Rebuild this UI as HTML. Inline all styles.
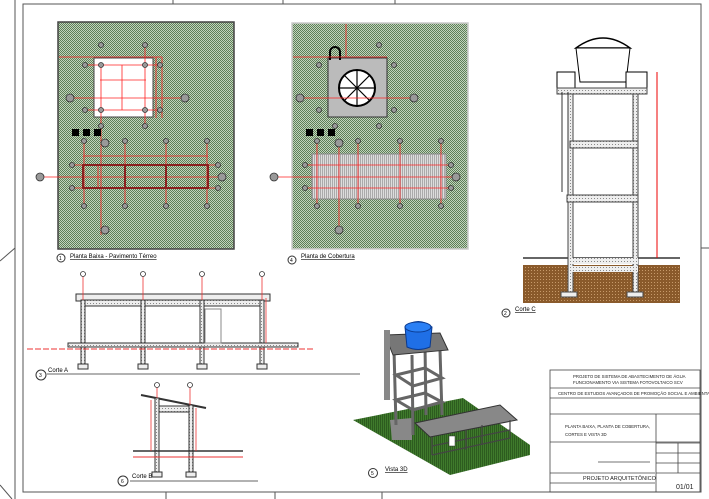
<!DOCTYPE html>
<html><head><meta charset="utf-8"><style>
html,body{margin:0;padding:0;background:#fff;}
svg{display:block;}
text{font-family:"Liberation Sans",sans-serif;}
</style></head><body>
<svg width="709" height="499" viewBox="0 0 709 499" xmlns="http://www.w3.org/2000/svg">
<defs>
<pattern id="g" width="2" height="2" patternUnits="userSpaceOnUse"><rect width="2" height="2" fill="#c2d4bd"/><rect width="1" height="1" fill="#5d7e57"/><rect x="1" y="1" width="1" height="1" fill="#5d7e57"/></pattern>
<pattern id="grass" width="2" height="2" patternUnits="userSpaceOnUse"><rect width="2" height="2" fill="#3f7a2c"/><rect width="1" height="2" fill="#2d5c1f"/></pattern>
<pattern id="soil" width="3" height="3" patternUnits="userSpaceOnUse"><rect width="3" height="3" fill="#8a5a2b"/><rect width="1" height="1" fill="#c79a6a"/></pattern>
<pattern id="conc" width="3" height="3" patternUnits="userSpaceOnUse"><rect width="3" height="3" fill="#eee"/><rect width="1" height="1" fill="#888"/></pattern>
<pattern id="mesh" width="2" height="2" patternUnits="userSpaceOnUse"><rect width="2" height="2" fill="#ddd"/><rect width="1" height="2" fill="#aaa"/></pattern>
</defs>
<g stroke="#555" fill="none" stroke-width="1">
<line x1="15" y1="0" x2="15" y2="499"/>
<rect x="23" y="4" width="678" height="488"/>
<line x1="173" y1="0" x2="173" y2="4"/><line x1="283" y1="0" x2="283" y2="4"/><line x1="395" y1="0" x2="395" y2="4"/>
<line x1="166" y1="492" x2="166" y2="499"/><line x1="275" y1="492" x2="275" y2="499"/><line x1="382" y1="492" x2="382" y2="499"/>
<line x1="701" y1="248" x2="709" y2="248"/>
<line x1="0" y1="261" x2="15" y2="248"/><line x1="0" y1="485" x2="12" y2="499"/>
</g>

<rect x="58" y="22" width="176" height="227" fill="url(#g)" stroke="#444" stroke-width="1.5"/>
<rect x="94" y="58" width="59" height="59" fill="#fff" stroke="#444"/>
<g stroke="#f22" stroke-width="0.8" fill="none">
<line x1="59" y1="57" x2="162" y2="57"/><line x1="101" y1="65" x2="101" y2="235"/><line x1="145" y1="45" x2="145" y2="126"/>
<line x1="88" y1="65" x2="162" y2="65"/><line x1="88" y1="110" x2="162" y2="110"/><line x1="70" y1="98" x2="185" y2="98"/>
<line x1="100" y1="80" x2="146" y2="80"/><line x1="122" y1="65" x2="122" y2="110"/>
<line x1="156" y1="57" x2="156" y2="118"/><line x1="162" y1="57" x2="162" y2="118"/>
<line x1="84" y1="141" x2="84" y2="206"/><line x1="125" y1="141" x2="125" y2="206"/><line x1="166" y1="141" x2="166" y2="206"/><line x1="207" y1="141" x2="207" y2="206"/>
<line x1="83" y1="156" x2="208" y2="156"/><line x1="72" y1="165" x2="218" y2="165"/><line x1="72" y1="188" x2="218" y2="188"/><line x1="40" y1="177" x2="222" y2="177"/>
<line x1="98" y1="166" x2="98" y2="188"/>
</g>
<rect x="83" y="165" width="125" height="23" fill="none" stroke="#8b2020" stroke-width="2"/>
<line x1="125" y1="165" x2="125" y2="188" stroke="#8b2020" stroke-width="2"/><line x1="166" y1="165" x2="166" y2="188" stroke="#8b2020" stroke-width="2"/>
<g fill="#000"><rect x="72" y="129" width="7" height="7"/><rect x="83" y="129" width="7" height="7"/><rect x="94" y="129" width="7" height="7"/></g>
<g fill="#999" stroke="#333" stroke-width="0.8">
<circle cx="101" cy="45" r="2.5"/><circle cx="145" cy="45" r="2.5"/><circle cx="85" cy="65" r="2.5"/><circle cx="101" cy="65" r="2.5"/><circle cx="145" cy="65" r="2.5"/><circle cx="160" cy="65" r="2.5"/>
<circle cx="85" cy="110" r="2.5"/><circle cx="101" cy="110" r="2.5"/><circle cx="145" cy="110" r="2.5"/><circle cx="160" cy="110" r="2.5"/><circle cx="101" cy="126" r="2.5"/><circle cx="145" cy="126" r="2.5"/>
<circle cx="84" cy="141" r="2.5"/><circle cx="125" cy="141" r="2.5"/><circle cx="166" cy="141" r="2.5"/><circle cx="207" cy="141" r="2.5"/>
<circle cx="84" cy="206" r="2.5"/><circle cx="125" cy="206" r="2.5"/><circle cx="166" cy="206" r="2.5"/><circle cx="207" cy="206" r="2.5"/>
<circle cx="72" cy="165" r="2.5"/><circle cx="218" cy="165" r="2.5"/><circle cx="72" cy="188" r="2.5"/><circle cx="218" cy="188" r="2.5"/>
<circle cx="70" cy="98" r="4"/><circle cx="185" cy="98" r="4"/><circle cx="40" cy="177" r="4"/><circle cx="222" cy="177" r="4"/><circle cx="105" cy="143" r="4"/><circle cx="105" cy="230" r="4"/>
</g>
<circle cx="61" cy="258" r="4" fill="none" stroke="#333"/><text x="59" y="260" font-size="5">1</text>
<text x="70" y="258" font-size="6" text-decoration="underline">Planta Baixa - Pavimento Térreo</text>

<rect x="292" y="23" width="176" height="226" fill="url(#g)" stroke="#ccc" stroke-width="1.5"/>
<rect x="328" y="58" width="59" height="59" fill="#bbb" stroke="#333"/>
<circle cx="357" cy="88" r="18" fill="#fff" stroke="#000" stroke-width="2"/>
<g stroke="#000" stroke-width="1.2"><line x1="339" y1="88" x2="375" y2="88"/><line x1="357" y1="70" x2="357" y2="106"/><line x1="344" y1="75" x2="370" y2="101"/><line x1="370" y1="75" x2="344" y2="101"/></g>
<path d="M330 60 v-8 a5 5 0 0 1 10 0 v8" fill="none" stroke="#000" stroke-width="2"/>
<rect x="312" y="154" width="134" height="45" fill="url(#mesh)" stroke="#888"/>
<g stroke="#f22" stroke-width="0.8">
<line x1="293" y1="57" x2="387" y2="57"/><line x1="346" y1="24" x2="346" y2="57"/>
<line x1="296" y1="98" x2="414" y2="98"/><line x1="275" y1="177" x2="457" y2="177"/>
<line x1="317" y1="141" x2="317" y2="206"/><line x1="358" y1="141" x2="358" y2="206"/><line x1="400" y1="141" x2="400" y2="206"/><line x1="441" y1="141" x2="441" y2="206"/>
<line x1="305" y1="165" x2="451" y2="165"/><line x1="305" y1="188" x2="451" y2="188"/><line x1="339" y1="141" x2="339" y2="230"/>
</g>
<g fill="#000"><rect x="306" y="129" width="7" height="7"/><rect x="317" y="129" width="7" height="7"/><rect x="328" y="129" width="7" height="7"/></g>
<g fill="#999" stroke="#333" stroke-width="0.8">
<circle cx="379" cy="45" r="2.5"/><circle cx="319" cy="65" r="2.5"/><circle cx="394" cy="65" r="2.5"/><circle cx="319" cy="110" r="2.5"/><circle cx="394" cy="110" r="2.5"/><circle cx="335" cy="126" r="2.5"/><circle cx="379" cy="126" r="2.5"/>
<circle cx="317" cy="141" r="2.5"/><circle cx="358" cy="141" r="2.5"/><circle cx="400" cy="141" r="2.5"/><circle cx="441" cy="141" r="2.5"/>
<circle cx="317" cy="206" r="2.5"/><circle cx="358" cy="206" r="2.5"/><circle cx="400" cy="206" r="2.5"/><circle cx="441" cy="206" r="2.5"/>
<circle cx="305" cy="165" r="2.5"/><circle cx="451" cy="165" r="2.5"/><circle cx="305" cy="188" r="2.5"/><circle cx="451" cy="188" r="2.5"/>
<circle cx="300" cy="98" r="4"/><circle cx="414" cy="98" r="4"/><circle cx="274" cy="177" r="4"/><circle cx="456" cy="177" r="4"/><circle cx="339" cy="143" r="4"/><circle cx="339" cy="230" r="4"/>
</g>
<circle cx="292" cy="260" r="4" fill="none" stroke="#333"/><text x="290" y="262" font-size="5">4</text>
<text x="301" y="258" font-size="6" text-decoration="underline">Planta de Cobertura</text>

<rect x="523" y="265" width="157" height="38" fill="url(#soil)"/>
<line x1="523" y1="258" x2="680" y2="258" stroke="#333" stroke-width="1.5"/>
<path d="M576 48 Q603 28 630 48 Z" fill="#fff" stroke="#000" stroke-width="1.5"/>
<path d="M576 48 L630 48 L626 82 L580 82 Z" fill="#fff" stroke="#000"/>
<rect x="557" y="72" width="18" height="16" fill="#fff" stroke="#000"/><rect x="626" y="72" width="21" height="16" fill="#fff" stroke="#000"/>
<rect x="557" y="88" width="90" height="6" fill="url(#conc)" stroke="#444"/>
<rect x="568" y="94" width="5" height="200" fill="url(#conc)" stroke="#444"/><rect x="633" y="94" width="5" height="200" fill="url(#conc)" stroke="#444"/>
<rect x="570" y="141" width="68" height="7" fill="url(#conc)" stroke="#444"/><rect x="567" y="195" width="71" height="7" fill="url(#conc)" stroke="#444"/>
<rect x="570" y="258" width="68" height="6" fill="url(#conc)"/><rect x="570" y="266" width="68" height="6" fill="url(#conc)"/>
<rect x="561" y="292" width="16" height="5" fill="#eee" stroke="#444"/><rect x="627" y="292" width="16" height="5" fill="#eee" stroke="#444"/>
<g stroke="#333"><line x1="562" y1="92" x2="562" y2="192"/><line x1="568" y1="92" x2="568" y2="192"/></g>
<line x1="657" y1="72" x2="657" y2="258" stroke="#e00" stroke-width="1"/>
<circle cx="506" cy="313" r="4" fill="none" stroke="#333"/><text x="504" y="315" font-size="5">2</text>
<text x="515" y="311" font-size="6" text-decoration="underline">Corte C</text>

<rect x="76" y="294" width="194" height="7" fill="#eee" stroke="#333"/>
<rect x="82" y="300" width="180" height="6" fill="url(#conc)" stroke="#333"/>
<g fill="url(#conc)" stroke="#333"><rect x="81" y="300" width="4" height="66"/><rect x="141" y="300" width="4" height="66"/><rect x="200" y="300" width="4" height="66"/><rect x="260" y="300" width="4" height="66"/></g>
<rect x="68" y="343" width="230" height="4" fill="url(#conc)" stroke="#333"/>
<rect x="205" y="309" width="16" height="34" fill="none" stroke="#888"/>
<line x1="27" y1="349" x2="315" y2="349" stroke="#e33" stroke-dasharray="6 2"/>
<g stroke="#e33" stroke-width="0.8"><line x1="83" y1="276" x2="83" y2="300"/><line x1="143" y1="276" x2="143" y2="300"/><line x1="202" y1="276" x2="202" y2="300"/><line x1="262" y1="276" x2="262" y2="300"/><line x1="266" y1="298" x2="266" y2="343"/></g>
<g fill="#eee" stroke="#333"><rect x="78" y="364" width="10" height="5"/><rect x="138" y="364" width="10" height="5"/><rect x="197" y="364" width="10" height="5"/><rect x="257" y="364" width="10" height="5"/></g>
<g fill="#fff" stroke="#333" stroke-width="0.8"><circle cx="83" cy="274" r="2.5"/><circle cx="143" cy="274" r="2.5"/><circle cx="202" cy="274" r="2.5"/><circle cx="262" cy="274" r="2.5"/></g>
<circle cx="41" cy="375" r="5" fill="none" stroke="#333"/><text x="39" y="377" font-size="5">3</text>
<text x="48" y="372" font-size="6">Corte A</text><line x1="47" y1="374" x2="360" y2="374" stroke="#666"/>

<line x1="141" y1="395" x2="206" y2="408" stroke="#333" stroke-width="2"/>
<rect x="158" y="406" width="34" height="6" fill="url(#conc)" stroke="#333"/>
<rect x="155" y="398" width="4" height="76" fill="url(#conc)" stroke="#333"/><rect x="189" y="405" width="4" height="69" fill="url(#conc)" stroke="#333"/>
<line x1="133" y1="451" x2="243" y2="451" stroke="#333" stroke-width="1.5"/>
<line x1="133" y1="457" x2="243" y2="457" stroke="#e33"/>
<g stroke="#e33" stroke-width="0.8"><line x1="151" y1="400" x2="151" y2="451"/><line x1="196" y1="408" x2="196" y2="451"/><line x1="157" y1="386" x2="157" y2="398"/><line x1="190" y1="386" x2="190" y2="405"/></g>
<g fill="#eee" stroke="#333"><rect x="152" y="472" width="10" height="5"/><rect x="186" y="472" width="10" height="5"/></g>
<g fill="#fff" stroke="#333" stroke-width="0.8"><circle cx="157" cy="385" r="2.5"/><circle cx="190" cy="385" r="2.5"/></g>
<circle cx="123" cy="481" r="5" fill="none" stroke="#333"/><text x="121" y="483" font-size="5">6</text>
<text x="132" y="478" font-size="6">Corte B</text><line x1="130" y1="481" x2="258" y2="481" stroke="#666"/>

<polygon points="353,420 463,398 530,445 530,455 450,475" fill="url(#grass)"/>
<polygon points="390,420 412,418 412,440 392,440" fill="#888"/>
<g stroke="#666" stroke-width="3" fill="none">
<line x1="394" y1="350" x2="396" y2="425"/><line x1="412" y1="355" x2="413" y2="435"/><line x1="440" y1="350" x2="442" y2="415"/><line x1="425" y1="345" x2="426" y2="415"/>
<polygon points="396,375 425,368 442,378 413,386"/><polygon points="396,400 425,393 442,402 413,410"/>
</g>
<polygon points="385,335 440,333 448,350 393,355" fill="#777" stroke="#333"/>
<rect x="384" y="330" width="6" height="70" fill="#888"/>
<path d="M405 327 Q418 316 432 327 L430 347 Q418 352 407 347 Z" fill="#1f6fe6" stroke="#0a3a90"/>
<ellipse cx="418" cy="327" rx="13" ry="5" fill="#2a80f5" stroke="#0a3a90"/>
<polygon points="415,423 500,405 517,420 430,437" fill="#888" stroke="#333"/>
<g stroke="#444" stroke-width="1.2" fill="none"><line x1="432" y1="437" x2="432" y2="455"/><line x1="510" y1="420" x2="510" y2="438"/><line x1="432" y1="455" x2="510" y2="438"/><line x1="432" y1="446" x2="510" y2="430"/><line x1="482" y1="425" x2="482" y2="445"/><line x1="466" y1="430" x2="466" y2="450"/></g>
<rect x="449" y="436" width="6" height="10" fill="#fff" stroke="#333" stroke-width="0.5"/>
<circle cx="373" cy="473" r="4.5" fill="none" stroke="#333"/><text x="371" y="475" font-size="5">5</text>
<text x="385" y="471" font-size="6" text-decoration="underline">Vista 3D</text>

<g stroke="#444" fill="none" stroke-width="0.8">
<rect x="550" y="370" width="150" height="122"/>
<line x1="550" y1="388" x2="700" y2="388"/><line x1="550" y1="398" x2="700" y2="398"/><line x1="550" y1="414" x2="700" y2="414"/>
<line x1="550" y1="442" x2="700" y2="442"/><line x1="550" y1="473" x2="655" y2="473"/><line x1="550" y1="483" x2="655" y2="483"/>
<line x1="656" y1="414" x2="656" y2="492"/><line x1="656" y1="443" x2="700" y2="443"/><line x1="656" y1="453" x2="700" y2="453"/><line x1="656" y1="463" x2="700" y2="463"/><line x1="656" y1="473" x2="700" y2="473"/>
<line x1="678" y1="443" x2="678" y2="473"/>
<line x1="598" y1="462" x2="650" y2="462"/>
</g>
<g font-size="4.3" fill="#222">
<text x="573" y="378">PROJETO DE SISTEMA DE ABASTECIMENTO DE ÁGUA</text>
<text x="573" y="384">FUNCIONAMENTO VIA SISTEMA FOTOVOLTAICO SCV</text>
<text x="558" y="395">CENTRO DE ESTUDOS AVANÇADOS DE PROMOÇÃO SOCIAL E AMBIENTAL</text>
<text x="565" y="428">PLANTA BAIXA, PLANTA DE COBERTURA,</text>
<text x="565" y="436">CORTES E VISTA 3D</text>
<text x="583" y="480" font-size="5.5">PROJETO ARQUITETÔNICO</text>
<text x="676" y="489" font-size="7">01/01</text>
</g>
</svg>
</body></html>
